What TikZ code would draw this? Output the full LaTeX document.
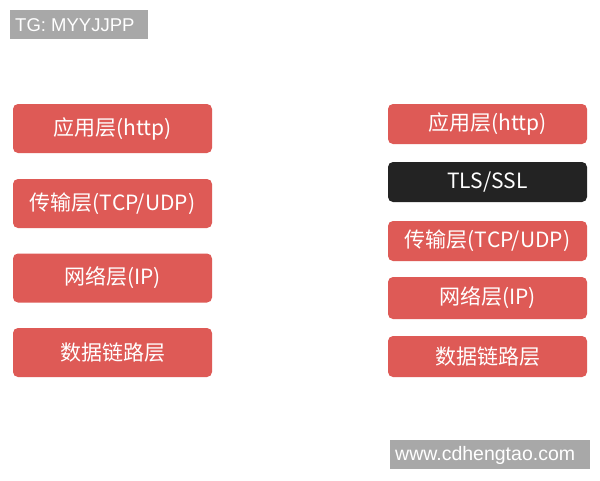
\documentclass[tikz,border=0pt]{standalone}
\usepackage{fontspec}
\setmainfont{Liberation Sans}
\newfontfamily\cjk{Noto Sans CJK SC}
\definecolor{layred}{HTML}{DE5A56}
\definecolor{laydark}{HTML}{232323}
\definecolor{tagray}{HTML}{A8A8A8}
\begin{document}
\begin{tikzpicture}[x=1pt,y=-1pt,
  layer/.style={fill=layred,draw=none,rounded corners=5pt,text=white,font=\cjk\fontsize{21}{24}\selectfont,inner sep=0pt},
  darklayer/.style={layer,fill=laydark},
  tag/.style={fill=tagray,text=white,inner sep=0pt,anchor=north west}]
\useasboundingbox (0,0) rectangle (600,480);
\fill[white] (0,0) rectangle (600,480);
% tag
\node[tag,minimum width=138pt,minimum height=29pt] (tg) at (10,10) {};
\node[text=white,font=\fontsize{18.5}{20}\selectfont,anchor=west,inner sep=0pt] (tgt) at (15,25) {TG: MYYJJPP};
% left column
\node[layer,minimum width=199pt,minimum height=49pt] (l1) at (112.5,128.5) {应用层(http)};
\node[layer,minimum width=199pt,minimum height=49pt] (l2) at (112.5,203.5) {传输层(TCP/UDP)};
\node[layer,minimum width=199pt,minimum height=49pt] (l3) at (112.5,278) {网络层(IP)};
\node[layer,minimum width=199pt,minimum height=49pt] (l4) at (112.5,352.5) {数据链路层};
% right column
\node[layer,minimum width=199pt,minimum height=40pt] (r1) at (487.5,124) {应用层(http)};
\node[darklayer,minimum width=199pt,minimum height=40pt] (r2) at (487.5,182) {TLS/SSL};
\node[layer,minimum width=199pt,minimum height=40pt] (r3) at (487.5,241) {传输层(TCP/UDP)};
\node[layer,minimum width=199pt,minimum height=42pt] (r4) at (487.5,298) {网络层(IP)};
\node[layer,minimum width=199pt,minimum height=41pt] (r5) at (487.5,356.5) {数据链路层};
% watermark
\node[tag,minimum width=200pt,minimum height=29pt] (wm) at (390,440) {};
\node[text=white,font=\fontsize{19.5}{21}\selectfont,anchor=west,inner sep=0pt] (wmt) at (395,455) {www.cdhengtao.com};
\end{tikzpicture}
\end{document}
